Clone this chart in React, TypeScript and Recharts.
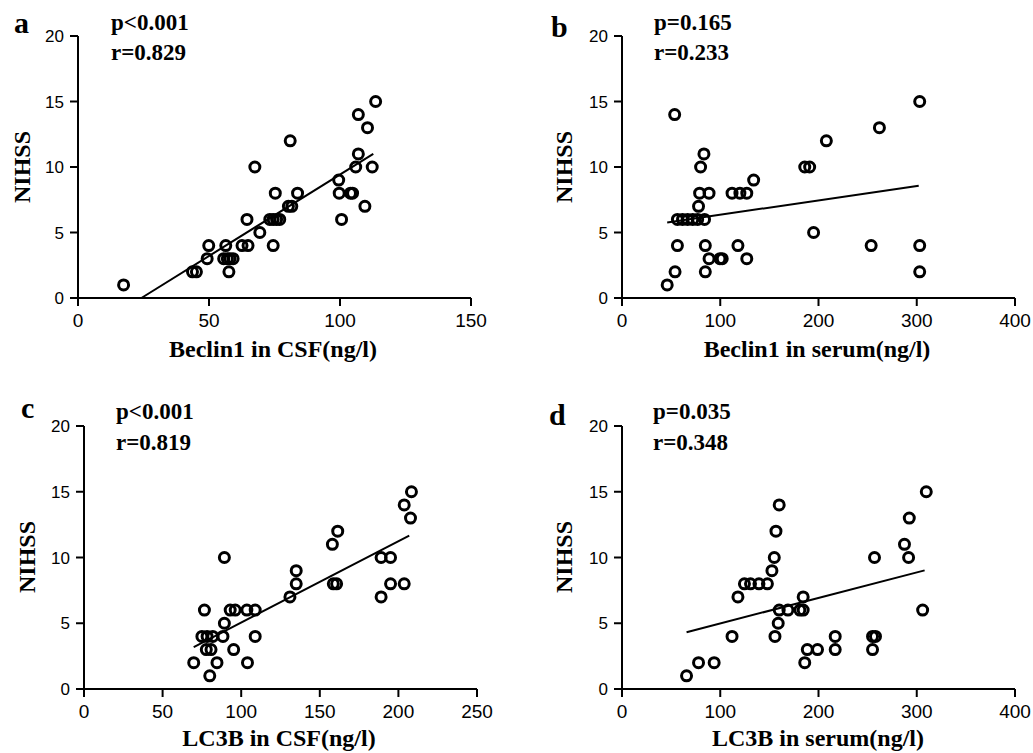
import React from "react";
import { ScatterChart, Scatter, XAxis, YAxis } from "recharts";

// Panel a: Beclin1 in CSF vs NIHSS
const beclinCsf = [17.4, 43.7, 45.2, 49.3, 49.9, 56.4, 55.6, 57, 58, 59.2, 57.6, 62.6, 64.9, 64.5, 67.5, 69.4, 74.5, 75.3, 73.2, 74.5, 75.8, 77, 80.3, 81.6, 81, 83.8, 99.5, 99.7, 100.6, 104, 104.8, 106, 107, 107, 109.5, 110.5, 112.3, 113.6];
const nihssA = [1, 2, 2, 3, 4, 4, 3, 3, 3, 3, 2, 4, 4, 6, 10, 5, 4, 8, 6, 6, 6, 6, 7, 7, 12, 8, 9, 8, 6, 8, 8, 10, 14, 11, 7, 13, 10, 15];
const fitA = [{ x: 24.2, y: 0 }, { x: 112.7, y: 11 }];

// Panel b: Beclin1 in serum vs NIHSS
const beclinSerum = [46, 54, 53.6, 56.4, 56.4, 61.6, 66.8, 72, 77, 84, 77.9, 79, 80, 83.4, 88.6, 84.8, 84.8, 88.6, 99.7, 102, 112, 120, 127, 118, 127, 134, 186, 191, 195, 208, 253.6, 262, 303, 303, 303];
const nihssB = [1, 2, 14, 4, 6, 6, 6, 6, 6, 6, 7, 8, 10, 11, 8, 4, 2, 3, 3, 3, 8, 8, 8, 4, 3, 9, 10, 10, 5, 12, 4, 13, 15, 4, 2];
const fitB = [{ x: 46, y: 5.77 }, { x: 302, y: 8.56 }];

// Panel c: LC3B in CSF vs NIHSS
const lc3bCsf = [69.8, 80, 76.6, 75, 78.3, 81.9, 77.8, 80.8, 84.6, 88.4, 89.3, 89.3, 93, 96.2, 95.2, 103.6, 108.9, 104, 108.9, 131, 135, 135, 158, 158.6, 160.7, 161.4, 189, 195, 189, 195, 203.7, 203.7, 208.3, 207.7];
const nihssC = [2, 1, 6, 4, 4, 4, 3, 3, 2, 4, 5, 10, 6, 6, 3, 6, 6, 2, 4, 7, 9, 8, 11, 8, 8, 12, 10, 10, 7, 8, 8, 14, 15, 13];
const fitC = [{ x: 69.8, y: 3.18 }, { x: 206.9, y: 11.66 }];

// Panel d: LC3B in serum vs NIHSS
const lc3bSerum = [65.7, 77.9, 93.8, 112, 118, 124.6, 130.8, 139.4, 148, 152.6, 155, 156.7, 160, 155.7, 159, 160, 168.9, 181, 184.4, 184.4, 186, 188.6, 199, 217, 217, 255, 258, 255, 257, 287.5, 291.7, 292.4, 306, 309.7];
const nihssD = [1, 2, 2, 4, 7, 8, 8, 8, 8, 9, 10, 12, 14, 4, 5, 6, 6, 6, 6, 7, 2, 3, 3, 4, 3, 4, 4, 3, 10, 11, 10, 13, 6, 15];
const fitD = [{ x: 65.7, y: 4.32 }, { x: 308, y: 9.02 }];

const nihssTicks = [0, 5, 10, 15, 20];
const csfBeclinTicks = [0, 50, 100, 150];
const csfLc3bTicks = [0, 50, 100, 150, 200, 250];
const serumTicks = [0, 100, 200, 300, 400];

const pair = (xs: number[], ys: number[]) => xs.map((x, i) => ({ x, y: ys[i] }));

const OpenCircle = (props: any) => {
  const { cx, cy } = props;
  if (cx == null || cy == null) return <g />;
  return <circle cx={cx} cy={cy} r={5} fill="none" stroke="#000" strokeWidth={3} />;
};

const NoDot = () => <g />;

const sans = "'Liberation Sans', Arial, sans-serif";
const serif = "'Liberation Serif', 'Times New Roman', serif";

function Panel({ left, top, width, height, yAxisW, right, bottom, xMax, xTicks, points, fit }: {
  left: number; top: number; width: number; height: number; yAxisW: number; right: number; bottom: number;
  xMax: number; xTicks: number[]; points: { x: number; y: number }[]; fit: { x: number; y: number }[];
}) {
  return (
    <div style={{ position: "absolute", left, top }}>
      <ScatterChart width={width} height={height} margin={{ top: 36, right, left: 0, bottom }}>
        <XAxis
          type="number"
          dataKey="x"
          domain={[0, xMax]}
          ticks={xTicks}
          allowDataOverflow
          height={40}
          tickSize={8}
          tickMargin={8}
          stroke="#000"
          strokeWidth={2}
          tick={{ fill: "#000", fontSize: 19, fontFamily: sans }}
        />
        <YAxis
          type="number"
          dataKey="y"
          domain={[0, 20]}
          ticks={nihssTicks}
          width={yAxisW}
          tickSize={8}
          tickMargin={6}
          stroke="#000"
          strokeWidth={2}
          tick={{ fill: "#000", fontSize: 17, fontFamily: sans }}
        />
        <Scatter data={points} shape={<OpenCircle />} isAnimationActive={false} />
        <Scatter data={fit} line={{ stroke: "#000", strokeWidth: 2 }} shape={<NoDot />} isAnimationActive={false} />
      </ScatterChart>
    </div>
  );
}

const labelStyle = { fontFamily: serif, fontWeight: "bold" as const, fill: "#000" };

export default function App() {
  return (
    <div style={{ position: "absolute", left: 0, top: 0, width: 1033, height: 753, background: "#fff" }}>
      <Panel left={0} top={0} width={500} height={390} yAxisW={78} right={29} bottom={52}
        xMax={150} xTicks={csfBeclinTicks} points={pair(beclinCsf, nihssA)} fit={fitA} />
      <Panel left={520} top={0} width={513} height={390} yAxisW={102} right={18} bottom={52}
        xMax={400} xTicks={serumTicks} points={pair(beclinSerum, nihssB)} fit={fitB} />
      <Panel left={0} top={390} width={500} height={363} yAxisW={84} right={23} bottom={24}
        xMax={250} xTicks={csfLc3bTicks} points={pair(lc3bCsf, nihssC)} fit={fitC} />
      <Panel left={520} top={390} width={513} height={363} yAxisW={102} right={18} bottom={24}
        xMax={400} xTicks={serumTicks} points={pair(lc3bSerum, nihssD)} fit={fitD} />

      <svg width={1033} height={753} style={{ position: "absolute", left: 0, top: 0, pointerEvents: "none" }}>
        {/* panel letters */}
        <text x={14} y={33} fontSize={30} {...labelStyle}>a</text>
        <text x={551} y={37} fontSize={30} {...labelStyle}>b</text>
        <text x={21} y={418} fontSize={30} {...labelStyle}>c</text>
        <text x={549} y={425} fontSize={30} {...labelStyle}>d</text>

        {/* statistics */}
        <text x={111} y={30} fontSize={23} {...labelStyle}>p&lt;0.001</text>
        <text x={111} y={60} fontSize={23} {...labelStyle}>r=0.829</text>
        <text x={654} y={30} fontSize={23} {...labelStyle}>p=0.165</text>
        <text x={654} y={60} fontSize={23} {...labelStyle}>r=0.233</text>
        <text x={116} y={419} fontSize={23} {...labelStyle}>p&lt;0.001</text>
        <text x={116} y={450} fontSize={23} {...labelStyle}>r=0.819</text>
        <text x={653} y={419} fontSize={23} {...labelStyle}>p=0.035</text>
        <text x={653} y={450} fontSize={23} {...labelStyle}>r=0.348</text>

        {/* x axis titles */}
        <text x={273} y={357} fontSize={24} textAnchor="middle" {...labelStyle}>Beclin1 in CSF(ng/l)</text>
        <text x={817} y={357} fontSize={24} textAnchor="middle" {...labelStyle}>Beclin1 in serum(ng/l)</text>
        <text x={279} y={746} fontSize={24} textAnchor="middle" {...labelStyle}>LC3B in CSF(ng/l)</text>
        <text x={818} y={746} fontSize={24} textAnchor="middle" {...labelStyle}>LC3B in serum(ng/l)</text>

        {/* y axis titles */}
        <text transform="translate(30,167) rotate(-90)" fontSize={24} textAnchor="middle" {...labelStyle}>NIHSS</text>
        <text transform="translate(572,167) rotate(-90)" fontSize={24} textAnchor="middle" {...labelStyle}>NIHSS</text>
        <text transform="translate(35,557) rotate(-90)" fontSize={24} textAnchor="middle" {...labelStyle}>NIHSS</text>
        <text transform="translate(572,557) rotate(-90)" fontSize={24} textAnchor="middle" {...labelStyle}>NIHSS</text>
      </svg>
    </div>
  );
}
